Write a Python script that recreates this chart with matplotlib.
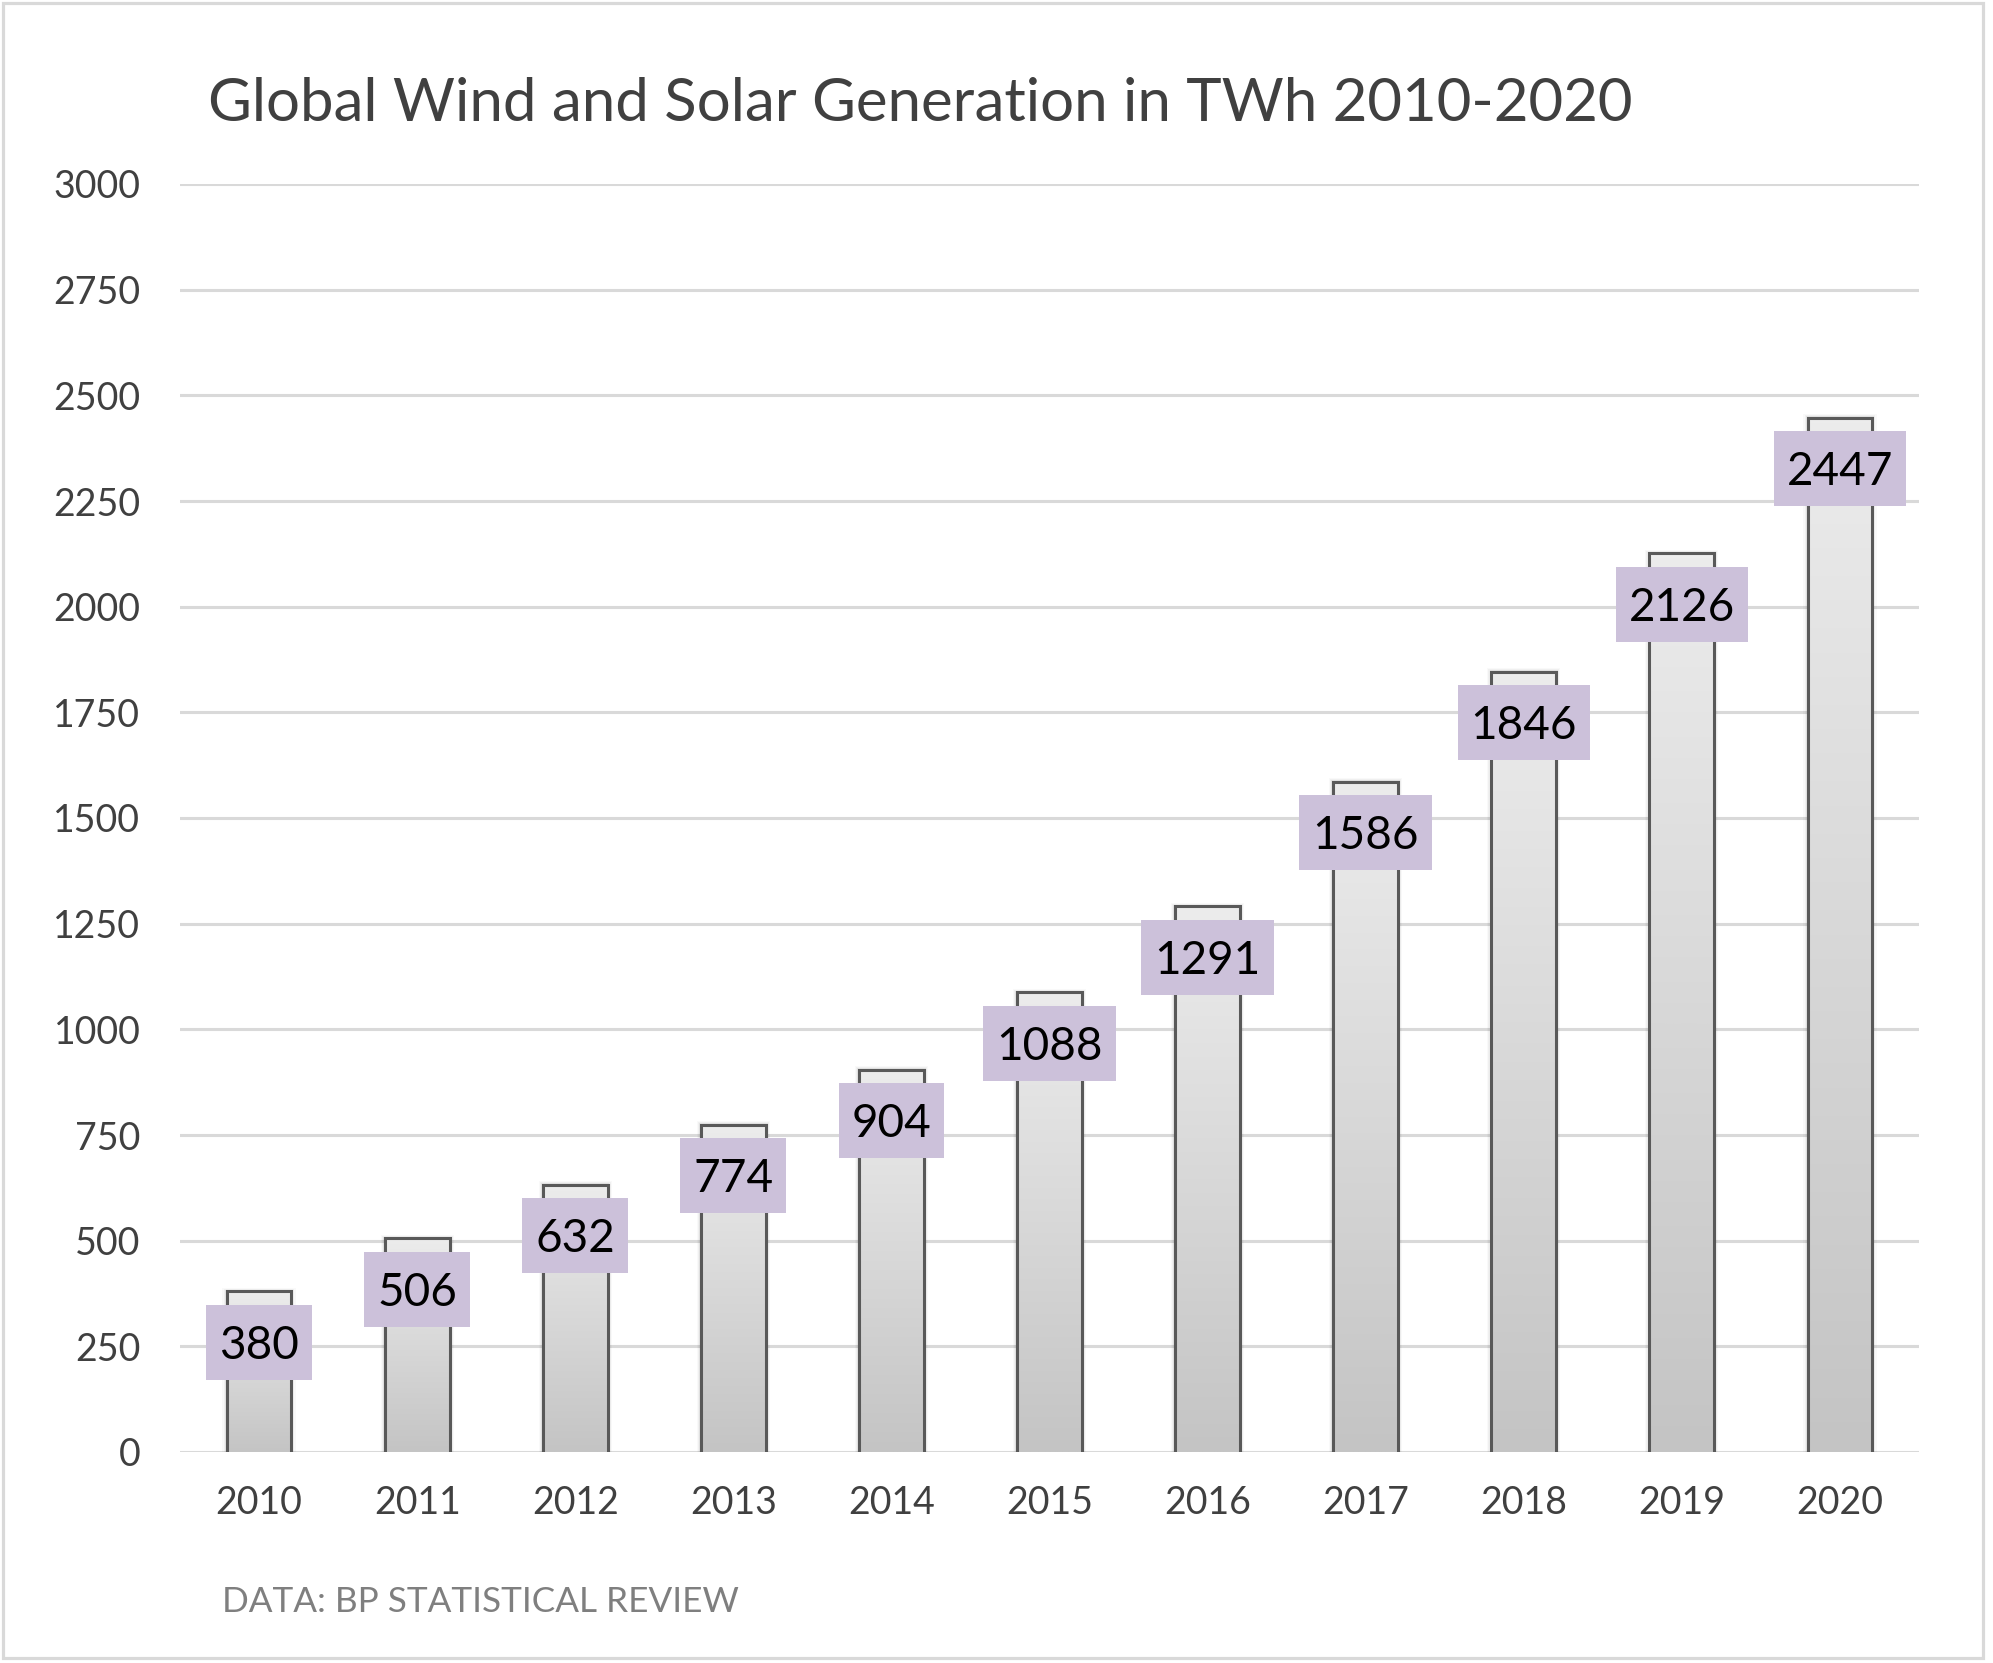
import numpy as np
import matplotlib
matplotlib.use("Agg")
import matplotlib.pyplot as plt
from matplotlib.patches import Rectangle
from matplotlib.lines import Line2D
from matplotlib.colors import LinearSegmentedColormap
from matplotlib.transforms import IdentityTransform

plt.rcParams['font.family'] = ['Lato', 'DejaVu Sans']

years = ['2010', '2011', '2012', '2013', '2014', '2015', '2016', '2017', '2018', '2019', '2020']
values = [380, 506, 632, 774, 904, 1088, 1291, 1586, 1846, 2126, 2447]
yticks = [0, 250, 500, 750, 1000, 1250, 1500, 1750, 2000, 2250, 2500, 2750, 3000]
title = 'Global Wind and Solar Generation in TWh 2010-2020'
source = 'DATA: BP STATISTICAL REVIEW'

W, H, DPI = 1993, 1663, 100
fig = plt.figure(figsize=(W / DPI, H / DPI), dpi=DPI)
fig.patch.set_facecolor('white')

# outer border
fig.patches.append(Rectangle((3 / W, 5 / H), 1980 / W, 1655 / H, transform=fig.transFigure,
                             fill=False, edgecolor='#d9d9d9', linewidth=2.3, zorder=0))

ax = fig.add_axes([180 / W, (H - 1452) / H, 1739 / W, 1268 / H])
ax.set_xlim(-0.5, len(years) - 0.5)
ax.set_ylim(0, 3000)
for s in ax.spines.values():
    s.set_visible(False)
ax.set_yticks(yticks)
ax.set_yticklabels([str(t) for t in yticks])
ax.set_xticks(range(len(years)))
ax.set_xticklabels(years)
ax.tick_params(axis='y', length=0, pad=28.5, labelsize=27, labelcolor='#404040')
ax.tick_params(axis='x', length=0, pad=24, labelsize=27, labelcolor='#404040')
ax.yaxis.grid(True, color='#d9d9d9', linewidth=2.2, zorder=0)
ax.set_axisbelow(True)

bw = 0.41
px = 1.0 / 158.1
cmap = LinearSegmentedColormap.from_list('g', ['#c4c4c4', '#ececec'])
grad = np.linspace(0, 1, 256).reshape(-1, 1)

for i, v in enumerate(values):
    x0, x1 = i - bw / 2, i + bw / 2
    # soft shadow
    for k, a in [(7, 0.025), (5, 0.035), (3, 0.05)]:
        ax.add_patch(Rectangle((x0 - k * px * 0.6, 0), bw + 2 * k * px * 0.6, v + k * 1.2,
                               facecolor='black', edgecolor='none', alpha=a, zorder=1))
    rect = Rectangle((x0, 0), bw, v, facecolor='none', edgecolor='none', zorder=2)
    ax.add_patch(rect)
    im = ax.imshow(grad, cmap=cmap, extent=(x0, x1, 0, v), origin='lower',
                   aspect='auto', zorder=2, interpolation='bilinear')
    im.set_clip_path(rect)
    ax.add_line(Line2D([x0, x0, x1, x1], [0, v, v, 0], color='#595959',
                       linewidth=2.2, solid_joinstyle='miter', zorder=3))

ax.set_xlim(-0.5, len(years) - 0.5)
ax.set_ylim(0, 3000)

# value labels
center_off = -51  # px below bar top
digit_h = 33
texts = []
for i, v in enumerate(values):
    t = ax.annotate(str(v), xy=(i, v), xytext=(0, (center_off - digit_h / 2) * 72 / DPI),
                    textcoords='offset points', ha='center', va='baseline',
                    fontsize=33, color='black', zorder=10)
    texts.append(t)

fig.canvas.draw()
r = fig.canvas.get_renderer()
for i, (t, v) in enumerate(zip(texts, values)):
    bb = t.get_window_extent(r)
    cx, cy = ax.transData.transform((i, v))
    bwid = bb.width + 26
    bh = 75
    x_left = (bb.x0 + bb.x1) / 2 - bwid / 2
    y_bot = cy + center_off - bh / 2
    ax.add_patch(Rectangle((x_left, y_bot), bwid, bh, transform=IdentityTransform(),
                           facecolor='#ccc1da', edgecolor='none', zorder=5, clip_on=False))

fig.text(208 / W, (H - 121) / H, title, fontsize=43.2, color='#404040', ha='left', va='baseline')
fig.text(222 / W, (H - 1612) / H, source, fontsize=25.3, color='#7f7f7f', ha='left', va='baseline')

fig.savefig('out.png', dpi=DPI, facecolor='white')
